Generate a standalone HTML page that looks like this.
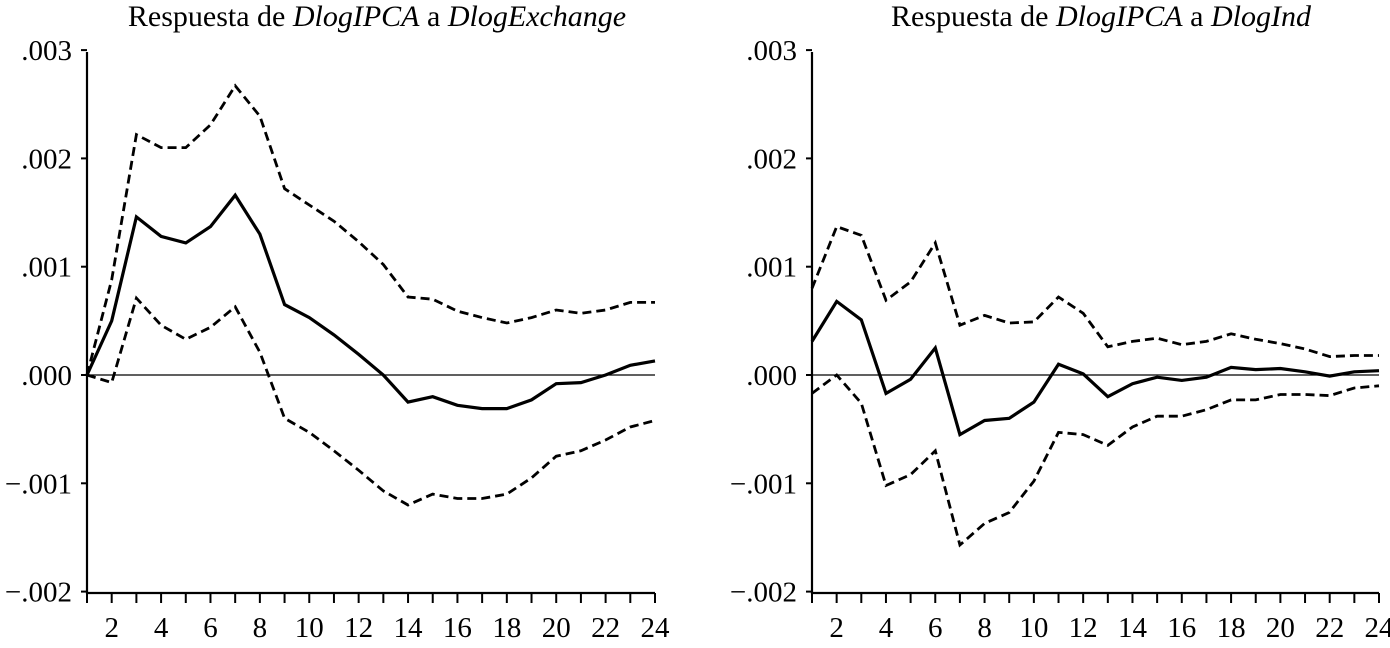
<!DOCTYPE html>
<html><head><meta charset="utf-8"><style>
body{margin:0;background:#fff}
svg text{font-family:"Liberation Serif",serif;fill:#000}
</style></head><body>
<svg width="1390" height="643">
<g id="charts"></g>
</svg>
<script>
const periods=[1,2,3,4,5,6,7,8,9,10,11,12,13,14,15,16,17,18,19,20,21,22,23,24];
const yTicks=[0.003,0.002,0.001,0,-0.001,-0.002];
const yTickLabels=[".003",".002",".001",".000","\u2212.001","\u2212.002"];
const xTickLabels=[2,4,6,8,10,12,14,16,18,20,22,24];
const exCentral=[0,0.0005,0.00146,0.00128,0.00122,0.00137,0.00166,0.0013,0.00065,0.00053,0.00037,0.00019,0,-0.00025,-0.0002,-0.00028,-0.00031,-0.00031,-0.00023,-0.00008,-0.00007,0,0.00009,0.00013];
const exUpper=[0,0.00088,0.00222,0.0021,0.0021,0.00231,0.00267,0.00239,0.00172,0.00157,0.00142,0.00123,0.00102,0.00072,0.0007,0.00059,0.00053,0.00048,0.00053,0.0006,0.00057,0.0006,0.00067,0.00067];
const exLower=[0,-0.00007,0.00071,0.00046,0.00033,0.00044,0.00063,0.00021,-0.0004,-0.00053,-0.0007,-0.00088,-0.00107,-0.0012,-0.0011,-0.00114,-0.00114,-0.0011,-0.00095,-0.00075,-0.0007,-0.0006,-0.00048,-0.00042];
const indCentral=[0.00031,0.00068,0.00051,-0.00017,-0.00004,0.00025,-0.00055,-0.00042,-0.0004,-0.00025,0.0001,0.00001,-0.0002,-0.00008,-0.00002,-0.00005,-0.00002,0.00007,0.00005,0.00006,0.00003,-0.00001,0.00003,0.00004];
const indUpper=[0.0008,0.00137,0.00129,0.00069,0.00086,0.00122,0.00046,0.00055,0.00048,0.00049,0.00072,0.00057,0.00026,0.00031,0.00034,0.00028,0.00031,0.00038,0.00033,0.00029,0.00024,0.00017,0.00018,0.00018];
const indLower=[-0.00017,0,-0.00026,-0.00102,-0.00092,-0.0007,-0.00157,-0.00137,-0.00127,-0.00098,-0.00053,-0.00055,-0.00065,-0.00048,-0.00038,-0.00038,-0.00032,-0.00023,-0.00023,-0.00018,-0.00018,-0.00019,-0.00012,-0.0001];

const NS="http://www.w3.org/2000/svg";
const root=document.getElementById('charts');
function mk(tag,attrs,parent){const e=document.createElementNS(NS,tag);for(const k in attrs)e.setAttribute(k,attrs[k]);parent.appendChild(e);return e;}
function chart(x0,x1,titleX,titleParts,central,upper,lower,nm){
  const g=mk('g',{},root);
  
  
  const yTop=52,yBot=593;
  const sy=v=>375-v*108300;
  const sx=t=>x0+(t-1)*(x1-x0)/23;
  const t=mk('text',{x:titleX,y:26,'font-size':30,'text-anchor':'middle'},g);
  
  
  titleParts.forEach(p=>{const s=mk('tspan',{},t);s.textContent=p[0];if(p[1])s.setAttribute('font-style','italic');});
  const ax=mk('path',{d:`M${x0} ${yTop}V${yBot}H${x1}`,stroke:'#000','stroke-width':2.2,fill:'none'},g);
  
  
  const zl=mk('line',{x1:x0,x2:x1,y1:sy(0),y2:sy(0),stroke:'#000','stroke-width':1.3},g);
  
  
  yTicks.forEach((v,i)=>{
    mk('line',{x1:x0-6,x2:x0,y1:sy(v),y2:sy(v),stroke:'#000','stroke-width':2},g);
    const l=mk('text',{x:x0-15,y:sy(v)+10,'font-size':29,'text-anchor':'end'},g);
    l.textContent=yTickLabels[i];
    
    
  });
  periods.forEach(p=>mk('line',{x1:sx(p),x2:sx(p),y1:yBot,y2:yBot+10,stroke:'#000','stroke-width':2},g));
  xTickLabels.forEach(p=>{
    const l=mk('text',{x:sx(p),y:637,'font-size':29,'text-anchor':'middle'},g);
    l.textContent=p;
    
    
  });
  const line=(arr,dash,name)=>{
    const d=arr.map((v,i)=>(i?'L':'M')+sx(periods[i]).toFixed(1)+' '+sy(v).toFixed(1)).join('');
    const p=mk('path',{d:d,stroke:'#000','stroke-width':dash?2.8:3.2,fill:'none','stroke-dasharray':dash?'9 5':'none','stroke-linejoin':'miter'},g);
    
    
  };
  line(upper,true,'upper-band');
  line(lower,true,'lower-band');
  line(central,false,'impulse-response');
}
chart(87,655,377,[["Respuesta de ",0],["DlogIPCA",1],[" a ",0],["DlogExchange",1]],exCentral,exUpper,exLower,'chart-exchange');
chart(812,1379,1101,[["Respuesta de ",0],["DlogIPCA",1],[" a ",0],["DlogInd",1]],indCentral,indUpper,indLower,'chart-ind');
</script>
</body></html>
